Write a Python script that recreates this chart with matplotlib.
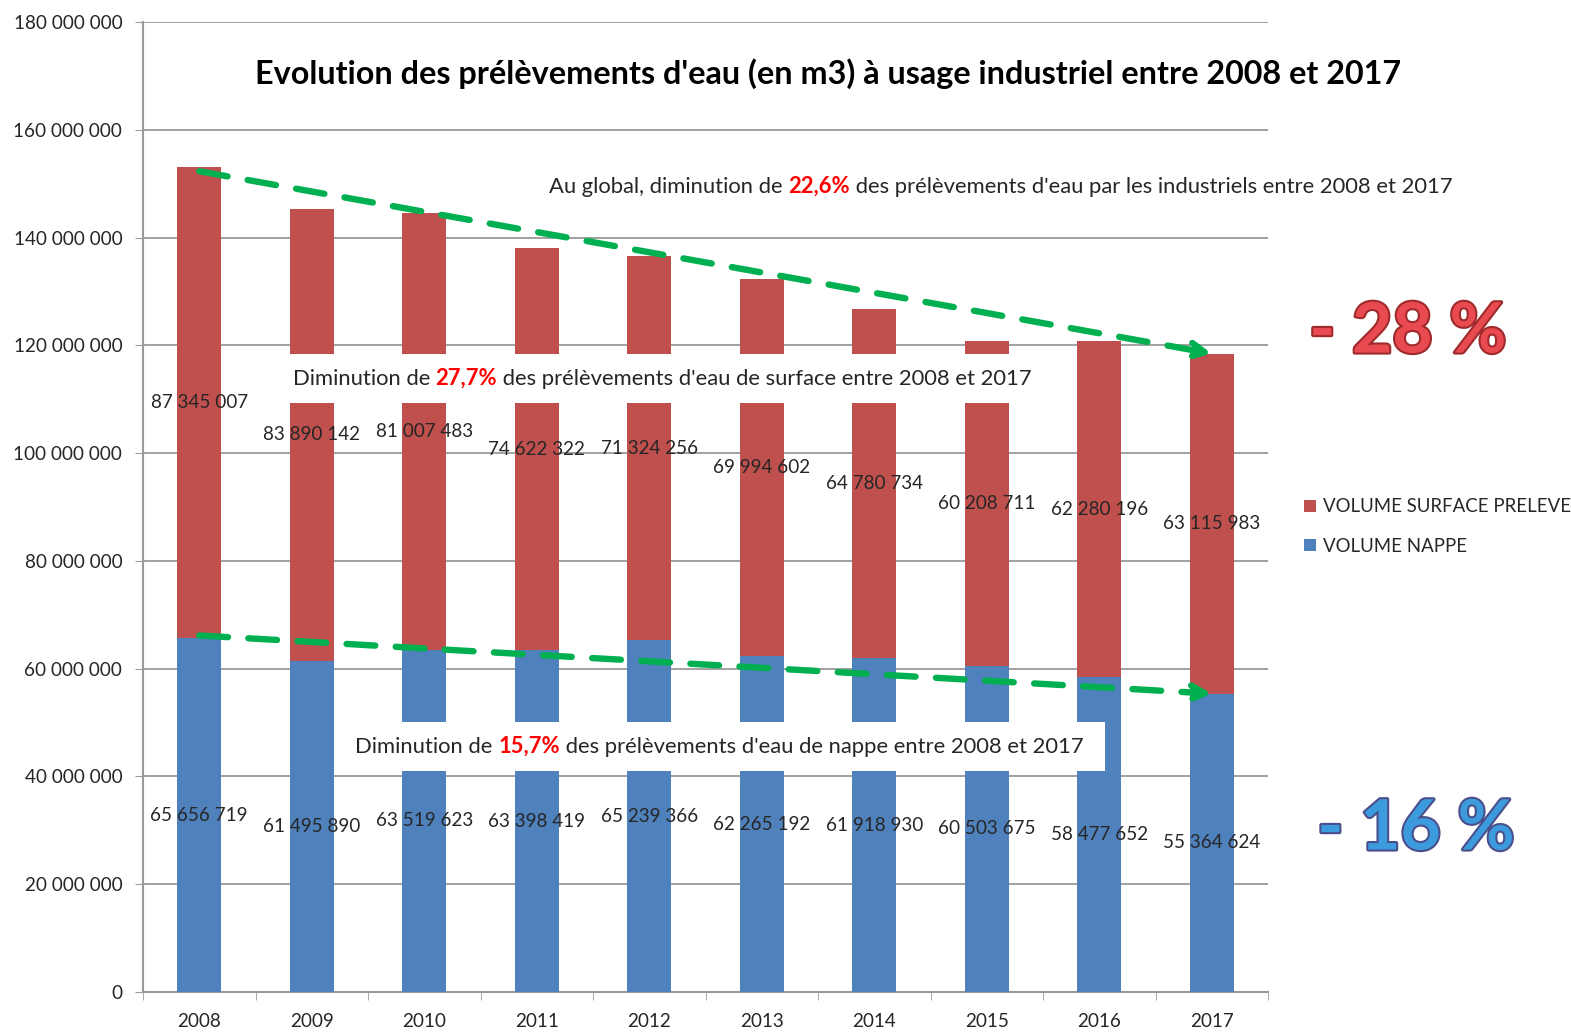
import matplotlib
matplotlib.use("Agg")
import matplotlib.pyplot as plt
import matplotlib.patheffects as pe
from matplotlib.patches import Rectangle
from matplotlib.transforms import Bbox
from matplotlib.ticker import FixedLocator, FuncFormatter

plt.rcParams["font.family"] = ["Lato", "DejaVu Sans"]

years = ["2008", "2009", "2010", "2011", "2012", "2013", "2014", "2015", "2016", "2017"]
nappe = [65656719, 61495890, 63519623, 63398419, 65239366,
         62265192, 61918930, 60503675, 58477652, 55364624]
surface = [87345007, 83890142, 81007483, 74622322, 71324256,
           69994602, 64780734, 60208711, 62280196, 63115983]
totals = [n + s for n, s in zip(nappe, surface)]

BLUE = "#4F81BD"
RED = "#C0504D"
GREEN = "#00B050"
TXT = "#262626"
GRID = "#9A9A9A"


def fmt_space(v, pos=None):
    return f"{int(v):,}".replace(",", " ")


def rich_line(ax, x, y, parts, size):
    # coloured pieces laid out one after the other
    pieces = []
    prev = None
    for s, c, w in parts:
        if prev is None:
            prev = ax.text(x, y, s, fontsize=size, color=c, fontweight=w,
                           va="center", ha="left", zorder=7)
        else:
            prev = ax.annotate(s, xycoords=prev, xy=(1, 0), va="bottom", ha="left",
                               fontsize=size, color=c, fontweight=w, zorder=7)
        pieces.append(prev)
    return pieces


def white_box(ax, pieces, padx=(10, 18), pady=14):
    # white rectangle behind a rich line, sized from the rendered text
    r = ax.figure.canvas.get_renderer()
    bb = Bbox.union([p.get_window_extent(r) for p in pieces])
    (x0, y0), (x1, y1) = ax.transData.inverted().transform(
        [[bb.x0 - padx[0], bb.y0 - pady], [bb.x1 + padx[1], bb.y1 + pady]])
    ax.add_patch(Rectangle((x0, y0), x1 - x0, y1 - y0, fc="white", ec="none", zorder=6))


fig = plt.figure(figsize=(15.71, 10.32), dpi=100)
ax = fig.add_axes([143 / 1571, 40 / 1032, 1125 / 1571, 970 / 1032])

x = list(range(len(years)))
ax.bar(x, nappe, width=0.39, color=BLUE, zorder=3, label="VOLUME NAPPE")
ax.bar(x, surface, width=0.39, bottom=nappe, color=RED, zorder=3,
       label="VOLUME SURFACE PRELEVE")

for i in x:
    ax.text(i, nappe[i] / 2, fmt_space(nappe[i]), ha="center", va="center",
            fontsize=13.6, color=TXT, zorder=8)
    ax.text(i, nappe[i] + surface[i] / 2, fmt_space(surface[i]), ha="center",
            va="center", fontsize=13.6, color=TXT, zorder=8)

ax.set_xlim(-0.5, len(years) - 0.5)
ax.set_ylim(0, 180_000_000)
ax.yaxis.set_major_locator(FixedLocator(range(0, 180_000_001, 20_000_000)))
ax.yaxis.set_major_formatter(FuncFormatter(fmt_space))
ax.set_xticks(x)
ax.set_xticklabels(years)
ax.set_xticks([i - 0.5 for i in range(len(years) + 1)], minor=True)
ax.tick_params(axis="x", which="major", length=0, pad=15, labelsize=13.6, labelcolor=TXT)
ax.tick_params(axis="x", which="minor", length=6, color=GRID, direction="out")
ax.tick_params(axis="y", length=6, color=GRID, labelsize=13.6, labelcolor=TXT, pad=9)
ax.grid(axis="y", color=GRID, linewidth=1.3, zorder=0)
for side in ["top", "right"]:
    ax.spines[side].set_visible(False)
for side in ["left", "bottom"]:
    ax.spines[side].set_color(GRID)
    ax.spines[side].set_linewidth(1.5)

# trend arrows
arrow_kw = dict(arrowstyle="->,head_length=1.0,head_width=0.5", color=GREEN,
                lw=4.6, linestyle=(0, (4.5, 3.2)), shrinkA=0, shrinkB=0)
ax.annotate("", xy=(x[-1], totals[-1]), xytext=(x[0], totals[0] - 700000),
            arrowprops=arrow_kw, zorder=9)
ax.annotate("", xy=(x[-1], nappe[-1]), xytext=(x[0], nappe[0] + 500000),
            arrowprops=arrow_kw, zorder=9)

# title and text boxes
ax.text(0.609, 0.947, "Evolution des prélèvements d'eau (en m3) à usage industriel entre 2008 et 2017",
        transform=ax.transAxes, ha="center", va="center", fontsize=23.3,
        fontweight="bold", color="black")

rich_line(ax, 3.11, 149_400_000,
          [("Au global, diminution de ", TXT, "normal"),
           ("22,6%", "#FF0000", "bold"),
           (" des prélèvements d'eau par les industriels entre 2008 et 2017", TXT, "normal")],
          15.8)
surf_line = rich_line(ax, 0.83, 113_750_000,
                      [("Diminution de ", TXT, "normal"),
                       ("27,7%", "#FF0000", "bold"),
                       (" des prélèvements d'eau de surface entre 2008 et 2017", TXT, "normal")],
                      15.8)
nappe_line = rich_line(ax, 1.385, 45_460_000,
                       [("Diminution de ", TXT, "normal"),
                        ("15,7%", "#FF0000", "bold"),
                        (" des prélèvements d'eau de nappe entre 2008 et 2017", TXT, "normal")],
                       15.8)

fig.canvas.draw()
white_box(ax, surf_line, padx=(10, 15))
white_box(ax, nappe_line, padx=(10, 22))

# legend
h, l = ax.get_legend_handles_labels()
fig.legend(h[::-1], l[::-1], loc="upper left",
           bbox_to_anchor=(1297 / 1571, 1 - 491 / 1032), frameon=False,
           fontsize=13.4, handlelength=0.6, handleheight=0.6, handletextpad=0.4,
           labelspacing=1.2, labelcolor=TXT, borderaxespad=0)

# big percentages
fig.text(1408 / 1571, 1 - 333 / 1032, "- 28 %", ha="center", va="center",
         fontsize=50, fontweight="bold", color="#E84A50",
         path_effects=[pe.withStroke(linewidth=3, foreground="#9E2A2B")])
fig.text(1416 / 1571, 1 - 830 / 1032, "- 16 %", ha="center", va="center",
         fontsize=50, fontweight="bold", color="#3C9BDD",
         path_effects=[pe.withStroke(linewidth=3, foreground="#4A4F8C")])

fig.savefig("out.png", dpi=100)
